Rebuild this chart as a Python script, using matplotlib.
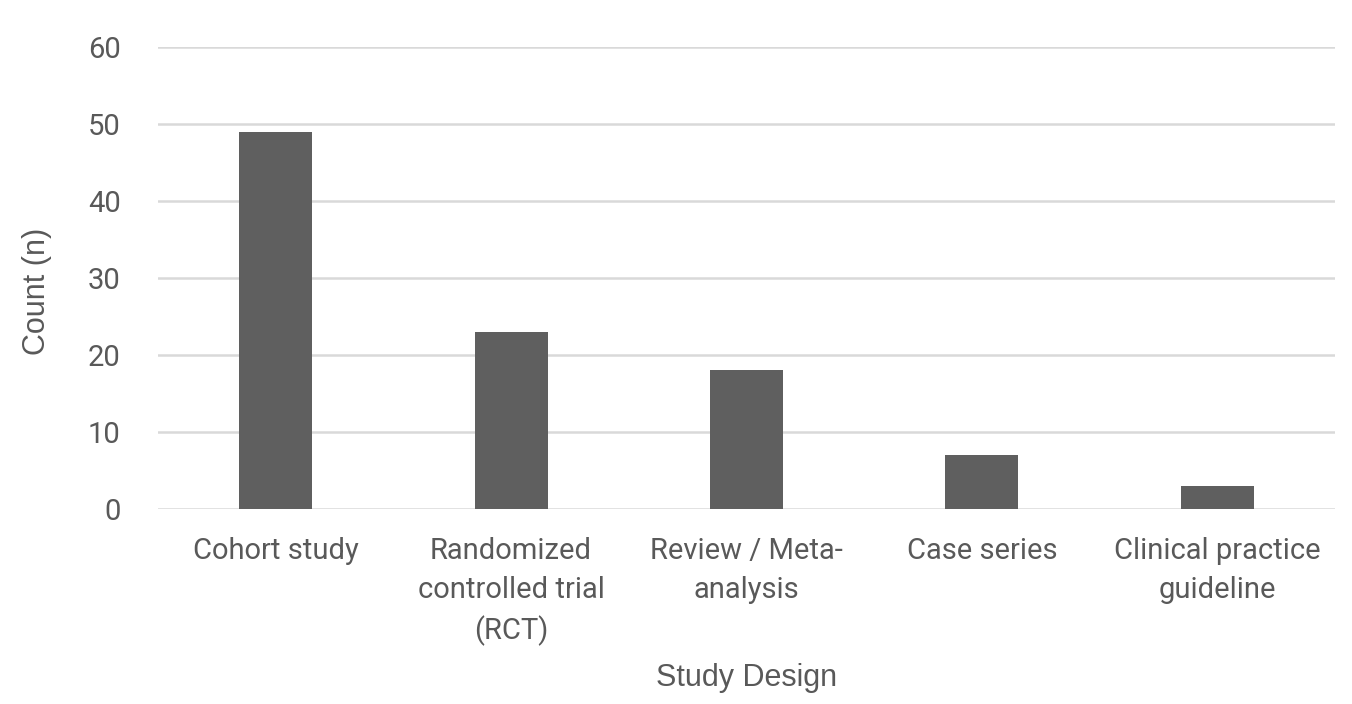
import matplotlib.pyplot as plt
import numpy as np

# data
designs = ['Cohort study', 'Randomized\ncontrolled trial\n(RCT)', 'Review / Meta-\nanalysis',
           'Case series', 'Clinical practice\nguideline']
counts = [49, 23, 18, 7, 3]
yticks = [0, 10, 20, 30, 40, 50, 60]

txt = '#595959'
plt.rcParams['font.family'] = ['Roboto', 'DejaVu Sans']

fig = plt.figure(figsize=(13.52, 7.04), dpi=100)
ax = fig.add_axes([0.1169, 0.277, 0.8705, 0.6562])

x = np.arange(len(designs))
ax.bar(x, counts, width=0.31, color='#5f5f5f', zorder=3)

ax.set_xlim(-0.5, len(designs) - 0.5)
ax.set_ylim(0, 60)
ax.set_yticks(yticks)
ax.yaxis.grid(True, color='#d9d9d9', linewidth=1.8, zorder=0)
ax.set_xticks(x)
ax.set_xticklabels(designs, fontsize=21, color=txt, linespacing=1.5)
ax.tick_params(axis='y', labelsize=21, labelcolor=txt, length=0, pad=27)
ax.tick_params(axis='x', length=0, pad=20)
for s in ax.spines.values():
    s.set_visible(False)

ax.set_ylabel('Count (n)', fontsize=22, color=txt, family=['Liberation Sans', 'DejaVu Sans'])
ax.yaxis.set_label_coords(-0.090, 0.47)
ax.set_xlabel('Study Design', fontsize=22, color=txt, family=['Liberation Sans', 'DejaVu Sans'], labelpad=12)

fig.savefig('out.png', dpi=100)
